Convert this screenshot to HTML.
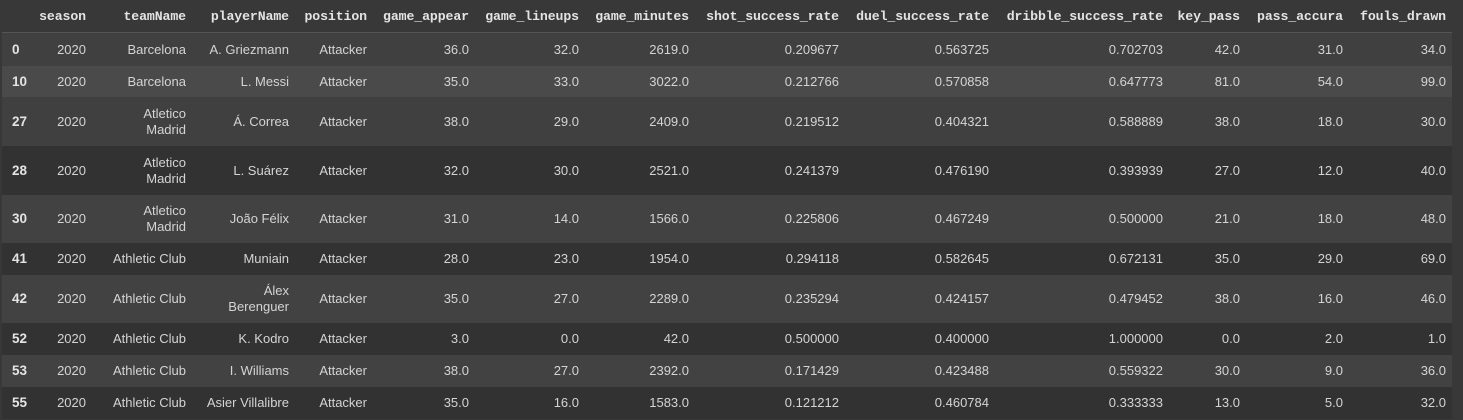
<!DOCTYPE html>
<html><head><meta charset="utf-8"><style>
html,body{margin:0;padding:0;background:#383838;width:1463px;height:420px;overflow:hidden}
#t{position:absolute;left:0;top:0;width:1463px;height:420px}
.row{position:absolute;left:2px;width:1450px}
.c{position:absolute;font-family:"Liberation Sans",sans-serif;font-size:13px;color:#d4d4d4;text-align:right;line-height:16px;white-space:nowrap}
.h{position:absolute;top:9px;font-family:"Liberation Mono",monospace;font-weight:bold;font-size:13.2px;color:#e4e4e4;text-align:right;white-space:nowrap;letter-spacing:-0.1px}
.idx{position:absolute;left:10px;font-family:"Liberation Sans",sans-serif;font-weight:bold;font-size:13.5px;color:#e4e4e4}
</style></head><body>
<div id="t"></div>
<script>
const cols=["season","teamName","playerName","position","game_appear","game_lineups","game_minutes","shot_success_rate","duel_success_rate","dribble_success_rate","key_pass","pass_accura","fouls_drawn"];
const rights=[86,186,289,367,469,579,689,839,989,1163,1240,1343,1446];
const idx=["0","10","27","28","30","41","42","52","53","55"];
const rows=[
["2020","Barcelona","A. Griezmann","Attacker","36.0","32.0","2619.0","0.209677","0.563725","0.702703","42.0","31.0","34.0"],
["2020","Barcelona","L. Messi","Attacker","35.0","33.0","3022.0","0.212766","0.570858","0.647773","81.0","54.0","99.0"],
["2020","Atletico<br>Madrid","Á. Correa","Attacker","38.0","29.0","2409.0","0.219512","0.404321","0.588889","38.0","18.0","30.0"],
["2020","Atletico<br>Madrid","L. Suárez","Attacker","32.0","30.0","2521.0","0.241379","0.476190","0.393939","27.0","12.0","40.0"],
["2020","Atletico<br>Madrid","João Félix","Attacker","31.0","14.0","1566.0","0.225806","0.467249","0.500000","21.0","18.0","48.0"],
["2020","Athletic Club","Muniain","Attacker","28.0","23.0","1954.0","0.294118","0.582645","0.672131","35.0","29.0","69.0"],
["2020","Athletic Club","Álex<br>Berenguer","Attacker","35.0","27.0","2289.0","0.235294","0.424157","0.479452","38.0","16.0","46.0"],
["2020","Athletic Club","K. Kodro","Attacker","3.0","0.0","42.0","0.500000","0.400000","1.000000","0.0","2.0","1.0"],
["2020","Athletic Club","I. Williams","Attacker","38.0","27.0","2392.0","0.171429","0.423488","0.559322","30.0","9.0","36.0"],
["2020","Athletic Club","Asier Villalibre","Attacker","35.0","16.0","1583.0","0.121212","0.460784","0.333333","13.0","5.0","32.0"]];
const bounds=[33,66,97,146,195,243,275,323,355,387,419];
const bgs=["#404040","#4a4a4a","#404040","#323232","#424242","#323232","#424242","#323232","#424242","#323232"];
const t=document.getElementById('t');
const hdr=document.createElement('div');


hdr.style.cssText='position:absolute;left:2px;top:32px;width:1450px;height:1px;background:#555';
t.appendChild(hdr);
cols.forEach((c,i)=>{const d=document.createElement('div');d.className='h';


d.textContent=c;d.style.right=(1463-rights[i])+'px';t.appendChild(d);});
rows.forEach((r,ri)=>{
 const top=bounds[ri],h=bounds[ri+1]-top;
 const row=document.createElement('div');row.className='row';
 
 
 row.style.top=top+'px';row.style.height=h+'px';row.style.background=bgs[ri];t.appendChild(row);
 const ix=document.createElement('div');ix.className='idx';
 
 
 ix.textContent=idx[ri];ix.style.top=(h/2-8)+'px';row.appendChild(ix);
 r.forEach((v,ci)=>{const d=document.createElement('div');d.className='c';
  
  
  d.innerHTML=v;const lines=v.split('<br>').length;
  d.style.top=(h/2-lines*8)+'px';d.style.right=(1452-rights[ci])+'px';row.appendChild(d);});
});
</script>
</body></html>
